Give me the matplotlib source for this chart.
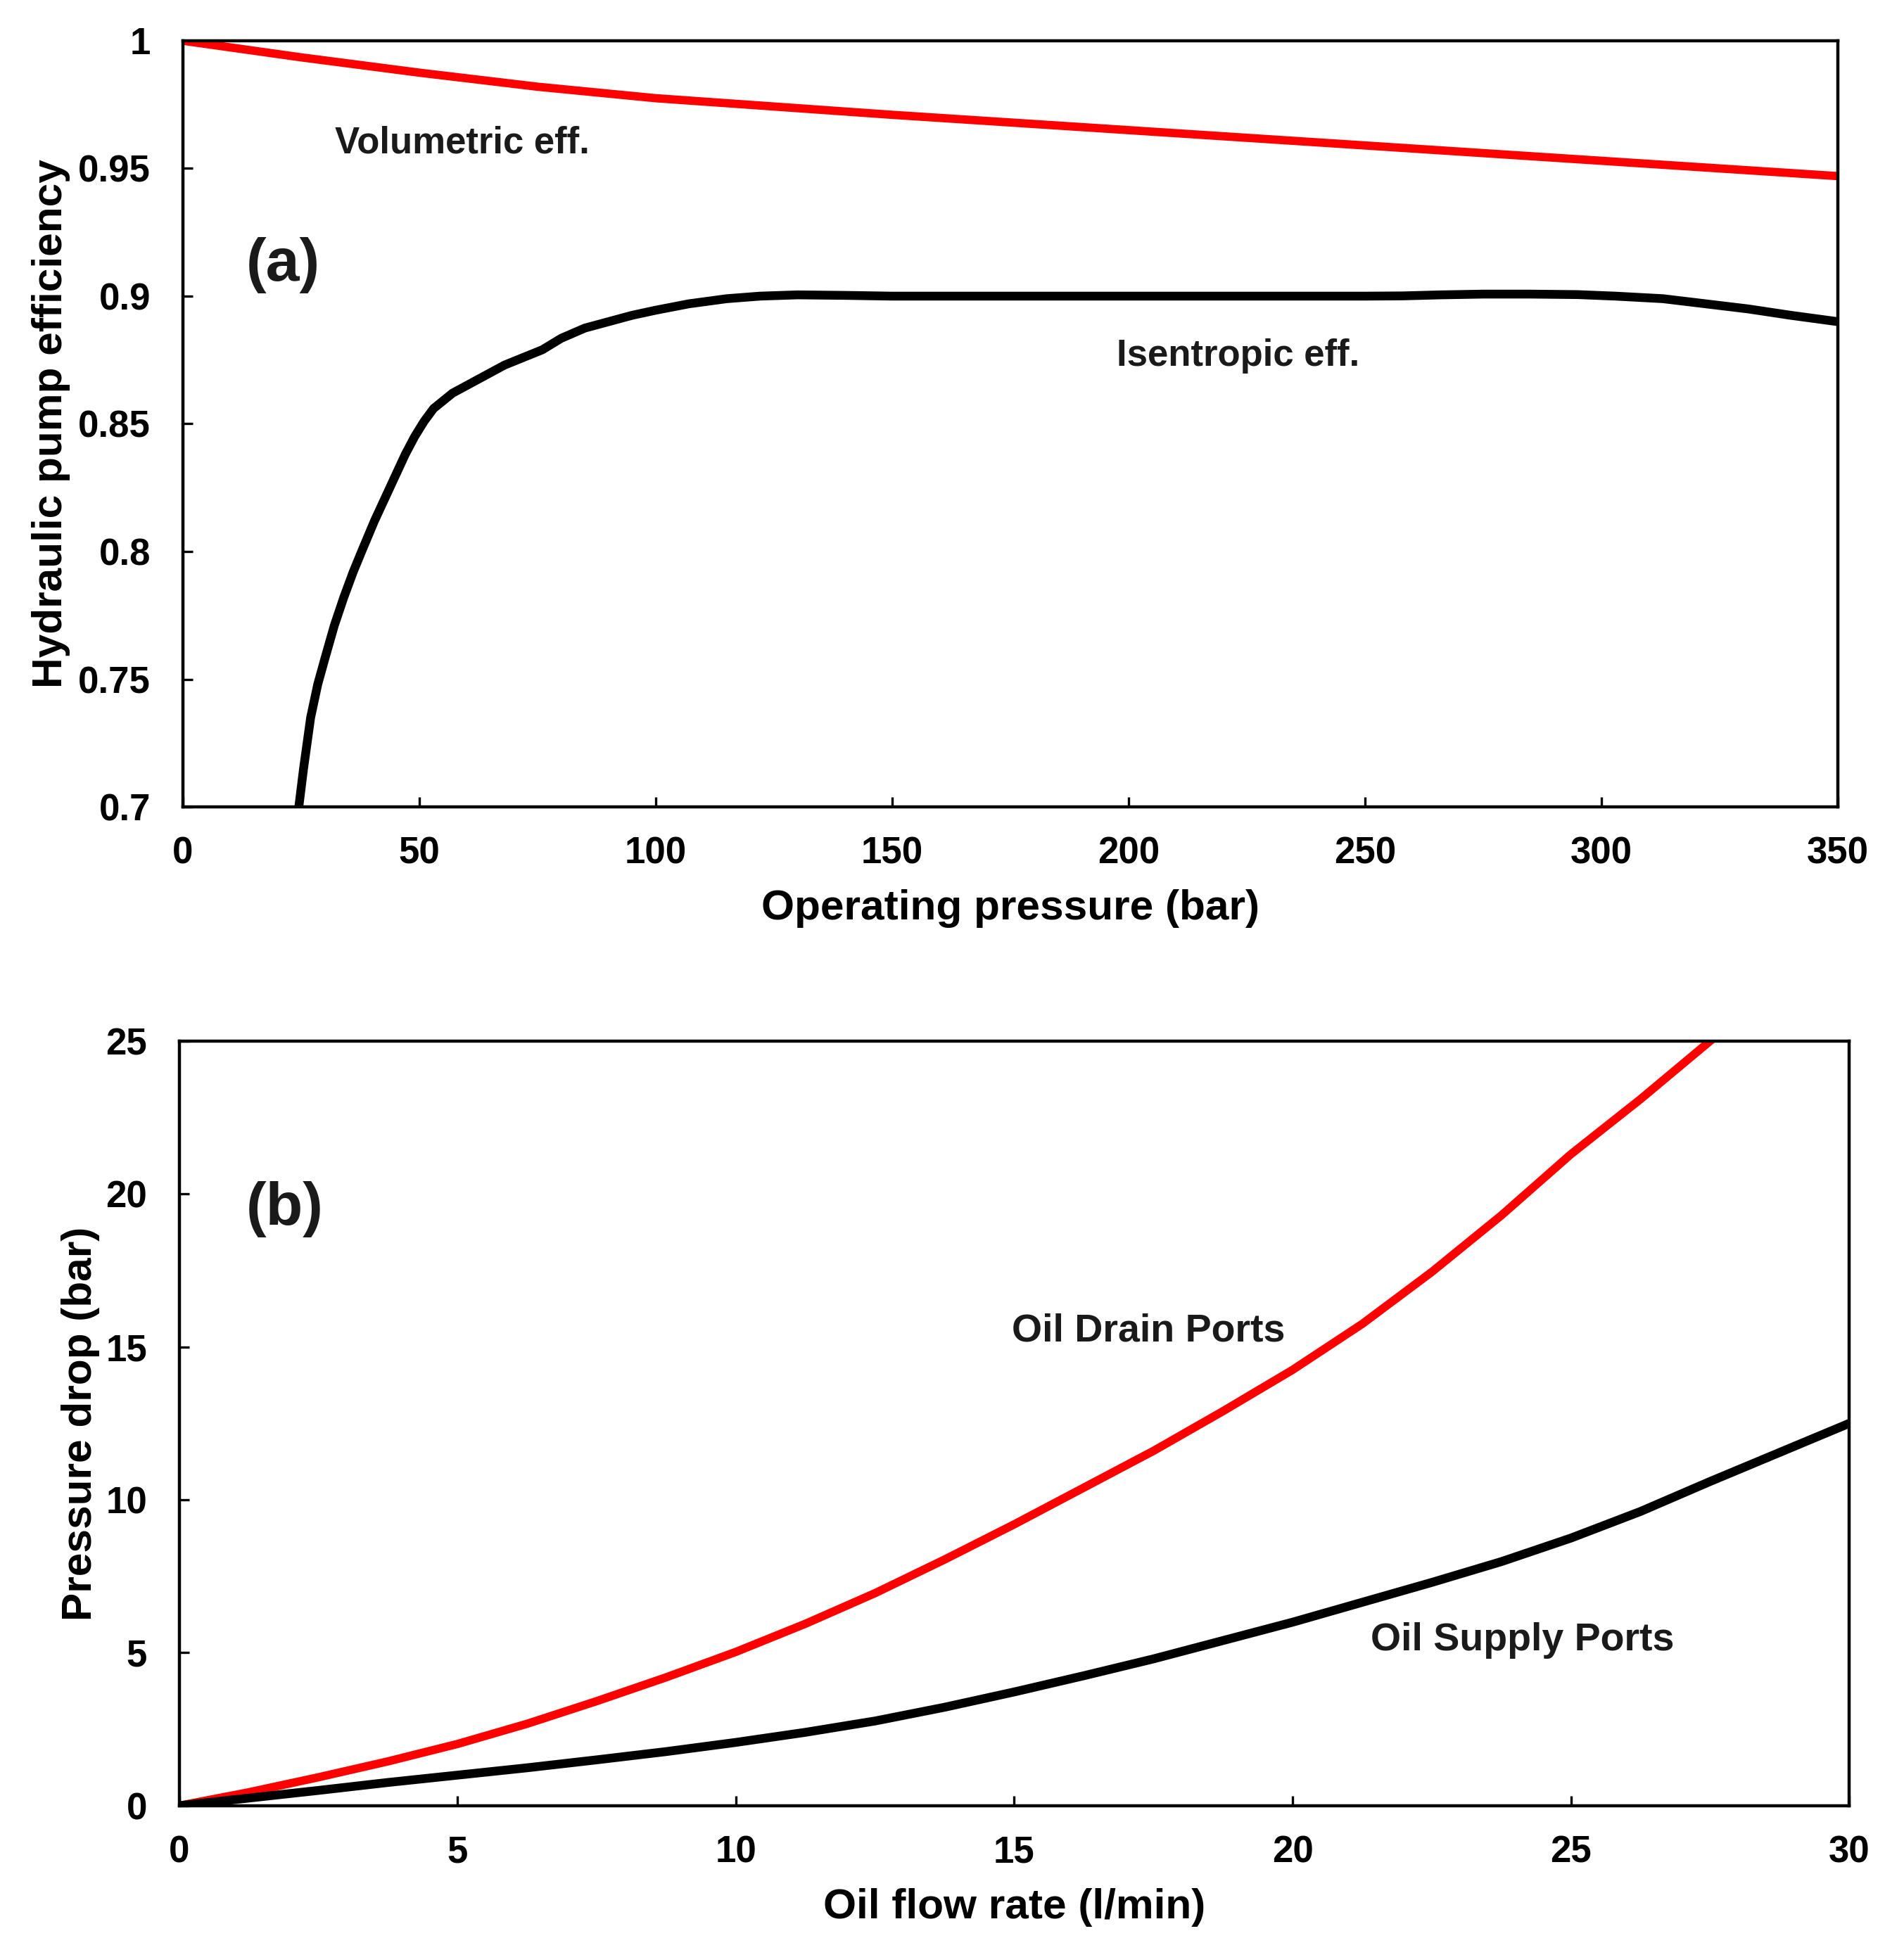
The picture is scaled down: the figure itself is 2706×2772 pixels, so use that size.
import numpy as np
import matplotlib
matplotlib.use("Agg")
import matplotlib.pyplot as plt

# ----------------------------
# DATA
# ----------------------------
# (a) pump efficiency vs operating pressure
vol_p = [0, 25, 50, 75, 100, 150, 200, 250, 300, 350]
vol_eff = [1.0, 0.9935, 0.9875, 0.982, 0.9775, 0.971, 0.965, 0.959, 0.953, 0.947]

isen_p = [24.5, 25.5, 27, 28.5, 30, 32, 34, 36, 38, 40.5, 43, 45, 47, 49, 51,
          53, 55, 57, 60, 64, 68, 72, 76, 80, 85, 90, 95, 100, 107, 115, 122,
          130, 140, 150, 200, 250, 258, 266, 275, 285, 295, 303, 313, 322,
          331, 340, 350]
isen_eff = [0.700, 0.715, 0.735, 0.748, 0.758, 0.771, 0.782, 0.792, 0.801,
            0.812, 0.822, 0.830, 0.838, 0.845, 0.851, 0.856, 0.859, 0.862,
            0.865, 0.869, 0.873, 0.876, 0.879, 0.8835, 0.8875, 0.890, 0.8925,
            0.8945, 0.897, 0.899, 0.900, 0.9005, 0.9003, 0.900, 0.900, 0.900,
            0.9001, 0.9005, 0.9008, 0.9008, 0.9006, 0.900, 0.899, 0.897,
            0.895, 0.8925, 0.890]

# (b) pressure drop vs oil flow rate
drain_q = [0, 1.25, 2.5, 3.75, 5, 6.25, 7.5, 8.75, 10, 11.25, 12.5, 13.75,
           15, 16.25, 17.5, 18.75, 20, 21.25, 22.5, 23.75, 25, 26.25, 27.5]
drain_dp = [0, 0.44, 0.93, 1.45, 2.02, 2.68, 3.42, 4.2, 5.03, 5.95, 6.95, 8.05,
            9.2, 10.4, 11.6, 12.9, 14.25, 15.75, 17.45, 19.3, 21.3, 23.1, 25.0]

supply_q = [0, 1.25, 2.5, 3.75, 5, 6.25, 7.5, 8.75, 10, 11.25, 12.5, 13.75,
            15, 16.25, 17.5, 18.75, 20, 21.25, 22.5, 23.75, 25, 26.25, 27.5,
            28.75, 30]
supply_dp = [0, 0.25, 0.5, 0.76, 1.0, 1.24, 1.5, 1.77, 2.07, 2.4, 2.77, 3.22,
             3.72, 4.25, 4.8, 5.4, 6.0, 6.65, 7.3, 7.98, 8.75, 9.62, 10.6,
             11.55, 12.5]

a_xticks = [0, 50, 100, 150, 200, 250, 300, 350]
a_yticks = [0.7, 0.75, 0.8, 0.85, 0.9, 0.95, 1.0]
b_xticks = [0, 5, 10, 15, 20, 25, 30]
b_yticks = [0, 5, 10, 15, 20, 25]

# ----------------------------
# STYLE
# ----------------------------
plt.rcParams["font.family"] = ["Liberation Sans", "DejaVu Sans"]
plt.rcParams["font.weight"] = "bold"

RED = "#ff0000"
TXT = "#1a1a1a"
TICK_FS = 38
LABEL_FS = 43.5
NOTE_FS = 38
PANEL_FS = 62


def style_axes(ax, xlim, ylim, xticks, yticks):
    ax.set_xlim(*xlim)
    ax.set_ylim(*ylim)
    ax.set_xticks(xticks)
    ax.set_yticks(yticks)
    ax.set_yticklabels([f"{v:g}" for v in yticks])
    ax.set_xticklabels([f"{v:g}" for v in xticks])
    for s in ax.spines.values():
        s.set_linewidth(3.2)
    ax.tick_params(direction="in", length=10, width=2.4, labelsize=TICK_FS,
                   top=False, right=False)
    ax.tick_params(axis="y", pad=33)
    ax.tick_params(axis="x", pad=30)
    for lab in ax.get_xticklabels() + ax.get_yticklabels():
        lab.set_fontweight("bold")


fig = plt.figure(figsize=(27.06, 27.72), dpi=100)

# ---- (a)
ax1 = fig.add_axes([0.0961, 0.5862, 0.8692, 0.3929])
ax1.plot(vol_p, vol_eff, color=RED, lw=8.5, solid_joinstyle="round")
ax1.plot(isen_p, isen_eff, color="black", lw=9, solid_joinstyle="round")
style_axes(ax1, (0, 350), (0.7, 1.0), a_xticks, a_yticks)
ax1.set_xlabel("Operating pressure (bar)", fontsize=LABEL_FS, fontweight="bold", labelpad=18)
ax1.set_ylabel("Hydraulic pump efficiency", fontsize=LABEL_FS, fontweight="bold", labelpad=8)
ax1.text(32.1, 0.960, "Volumetric eff.", fontsize=NOTE_FS, fontweight="bold",
         color=TXT, ha="left", va="center")
ax1.text(13.4, 0.912, "(a)", fontsize=PANEL_FS, fontweight="bold",
         color=TXT, ha="left", va="center")
ax1.text(197.5, 0.8766, "Isentropic eff.", fontsize=NOTE_FS, fontweight="bold",
         color=TXT, ha="left", va="center")

# ---- (b)
ax2 = fig.add_axes([0.0942, 0.0740, 0.8770, 0.3921])
ax2.plot(drain_q, drain_dp, color=RED, lw=8.5, solid_joinstyle="round")
ax2.plot(supply_q, supply_dp, color="black", lw=9, solid_joinstyle="round")
style_axes(ax2, (0, 30), (0, 25), b_xticks, b_yticks)
ax2.set_xlabel("Oil flow rate (l/min)", fontsize=LABEL_FS, fontweight="bold", labelpad=18)
ax2.set_ylabel("Pressure drop (bar)", fontsize=LABEL_FS, fontweight="bold", labelpad=6)
ax2.text(1.2, 19.5, "(b)", fontsize=PANEL_FS, fontweight="bold",
         color=TXT, ha="left", va="center")
ax2.text(14.95, 15.5, "Oil Drain Ports", fontsize=NOTE_FS + 2, fontweight="bold",
         color=TXT, ha="left", va="center")
ax2.text(21.4, 5.4, "Oil Supply Ports", fontsize=NOTE_FS + 2, fontweight="bold",
         color=TXT, ha="left", va="center")

fig.savefig("out.png", dpi=100)
